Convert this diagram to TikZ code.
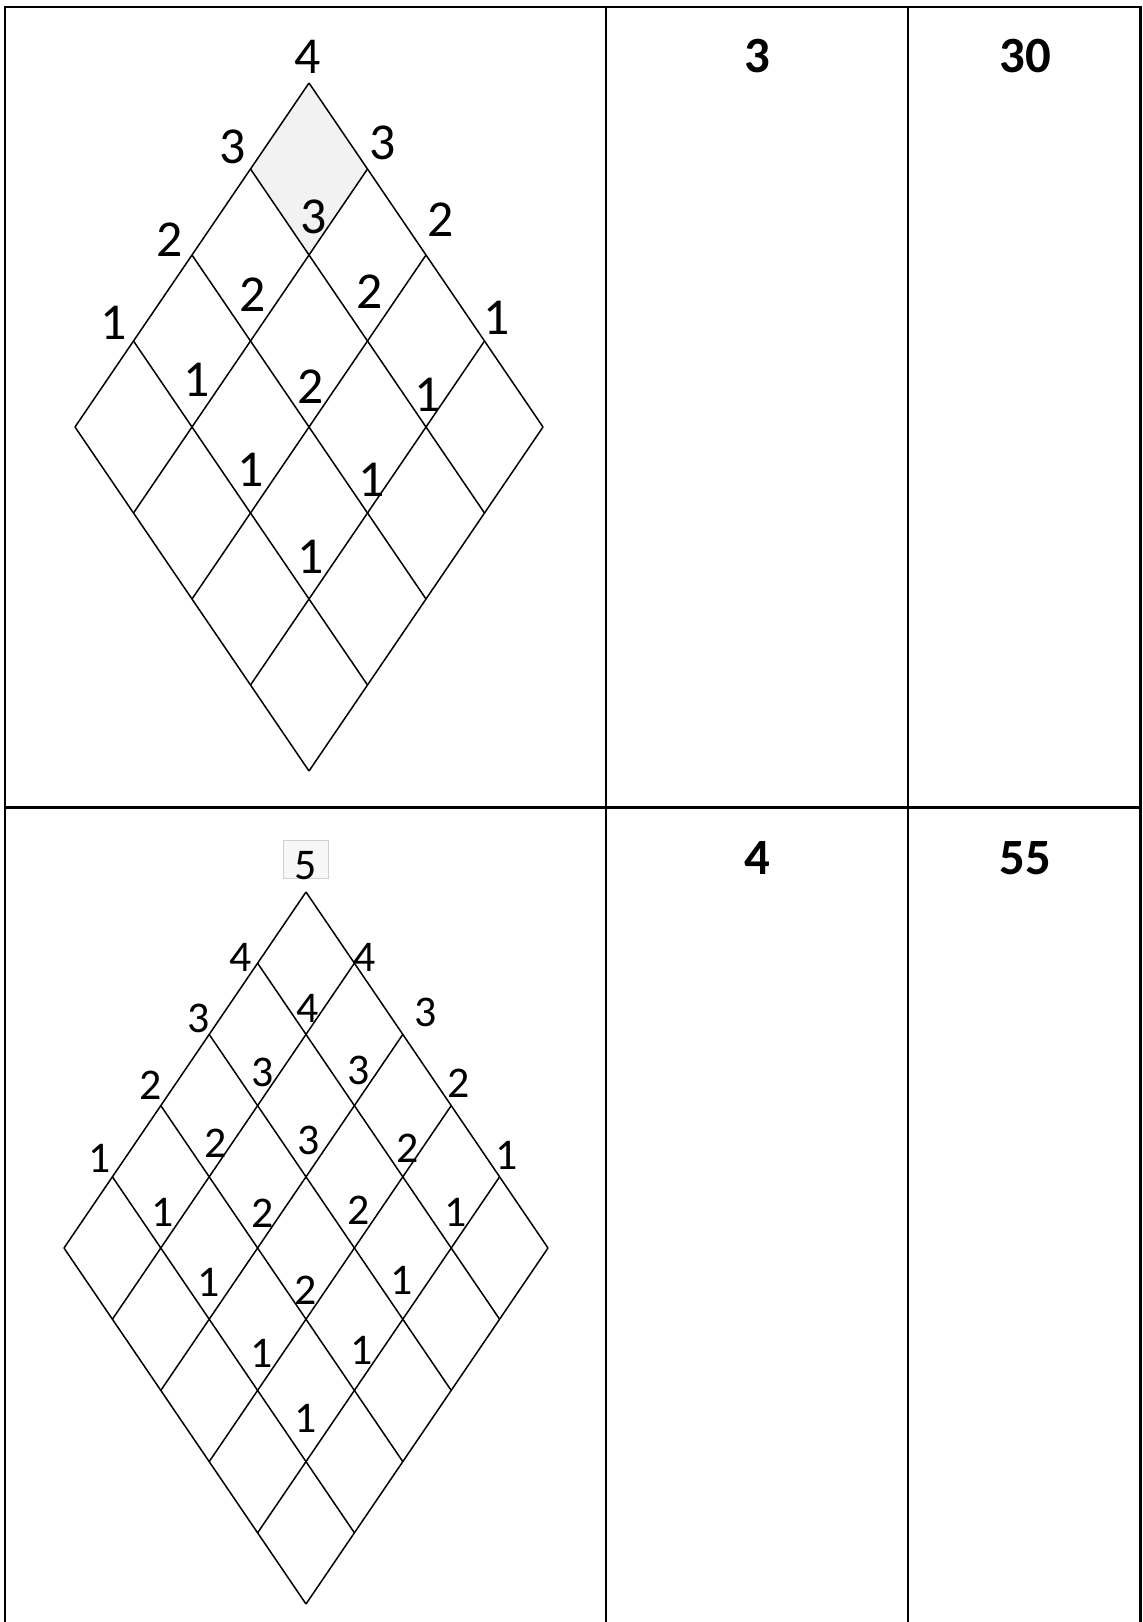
\documentclass[tikz,border=0pt]{standalone}
\usepackage{fontspec}
\setmainfont{Carlito}
\begin{document}
\begin{tikzpicture}[x=1bp,y=-1bp,
  tbl/.style={line width=2.2bp},
  gridline/.style={line width=1.5bp},
  lbl/.style={inner sep=0pt, font=\fontsize{52}{52}\selectfont},
  lbls/.style={inner sep=0pt, font=\fontsize{44}{44}\selectfont},
  big/.style={inner sep=0pt, font=\fontsize{51}{51}\selectfont\bfseries}]
\useasboundingbox[fill=white] (0,0) rectangle (1142,1622);
% table
\draw[tbl] (5,1622) -- (5,7) -- (1140.5,7) -- (1140.5,1622);
\draw[tbl] (5,807.5) -- (1140.5,807.5);
\draw[tbl] (606,7) -- (606,1622);
\draw[tbl] (908,7) -- (908,1622);
% right column numbers
\node[big] (n3) at (757,56) {3};
\node[big] (n30) at (1025,56) {30};
\node[big] (n4) at (757,858) {4};
\node[big] (n55) at (1025,858) {55};
% top lattice
\fill[black!5] (309,83) -- (250.5,169) -- (309,255) -- (367.5,169) -- cycle;
\foreach \i in {0,...,4} {
  \draw[gridline] ({309+58.5*\i},{83+86*\i}) -- ++(-234,344);
  \draw[gridline] ({309-58.5*\i},{83+86*\i}) -- ++(234,344);
}
\foreach \x/\y/\t [count=\k] in {308/57/4, 233/147/3, 383/143/3, 314/217/3,
  170/240/2, 441/220/2, 253/295/2, 370/292/2, 311/387/2,
  114/323/1, 497/318/1, 197/380/1, 428/395/1, 251/470/1, 372/480/1, 311/557/1}
  \node[lbl] (ta\k) at (\x,\y) {\t};
% bottom lattice
\draw[draw=black!18, fill=black!3, line width=0.8bp] (283,840) rectangle (328,878);
\foreach \i in {0,...,5} {
  \draw[gridline] ({306+48.4*\i},{892+71.2*\i}) -- ++(-242,356);
  \draw[gridline] ({306-48.4*\i},{892+71.2*\i}) -- ++(242,356);
}
\foreach \x/\y/\t [count=\k] in {306/866/5,
  241/957/4, 365/957/4, 308/1008/4,
  199/1018/3, 426/1012/3, 263/1072/3, 359/1070/3, 309/1140/3,
  151/1085/2, 459/1083/2, 216/1143/2, 408/1148/2, 263/1213/2, 359/1210/2, 306/1290/2,
  99.5/1158/1, 507/1155/1, 163/1212/1, 456/1212/1, 208.6/1282/1, 402/1280/1,
  262/1353/1, 362/1350/1, 306/1418/1}
  \node[lbls] (tb\k) at (\x,\y) {\t};
\end{tikzpicture}
\end{document}
